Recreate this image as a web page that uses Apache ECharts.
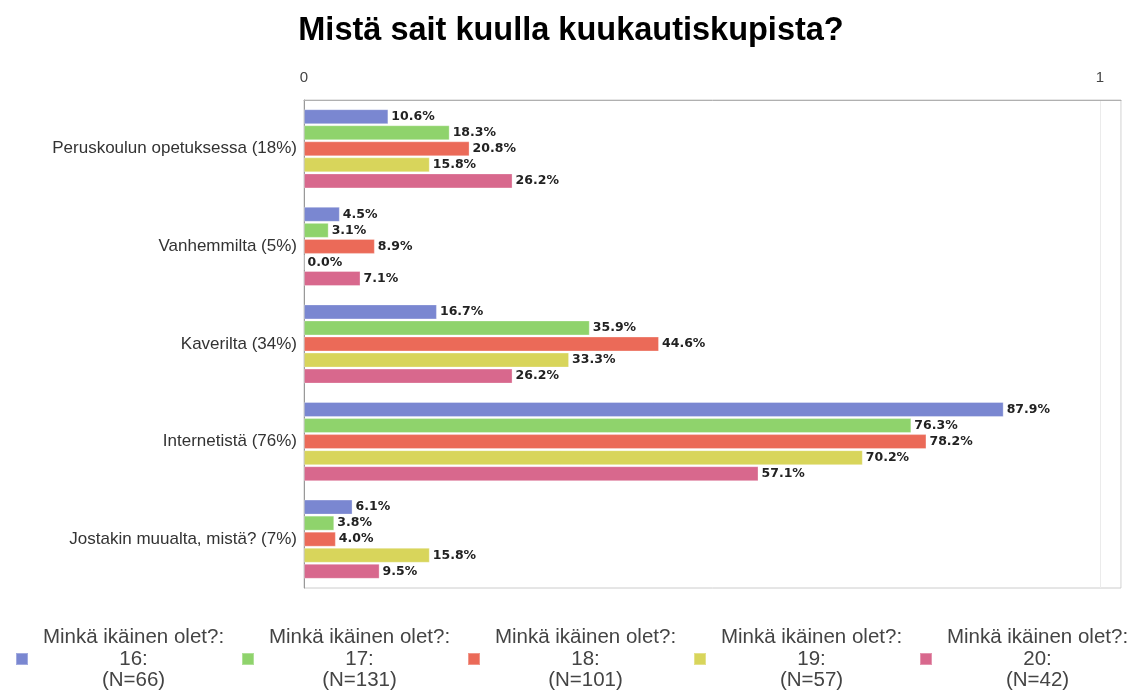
<!DOCTYPE html>
<html>
<head>
<meta charset="utf-8">
<script src="https://cdn.jsdelivr.net/npm/echarts@6/dist/echarts.min.js"></script>
<style>
html,body{margin:0;padding:0;background:#fff;}
#chart{width:1142px;height:698px;}
</style>
</head>
<body>
<div id="chart"></div>
<script>
const titleText = 'Mistä sait kuulla kuukautiskupista?';
const categories = [
  'Peruskoulun opetuksessa (18%)',
  'Vanhemmilta (5%)',
  'Kaverilta (34%)',
  'Internetistä (76%)',
  'Jostakin muualta, mistä? (7%)'
];
const ages = ['16', '17', '18', '19', '20'];
const counts = [66, 131, 101, 57, 42];
const age16 = [10.6, 4.5, 16.7, 87.9, 6.1];
const age17 = [18.3, 3.1, 35.9, 76.3, 3.8];
const age18 = [20.8, 8.9, 44.6, 78.2, 4.0];
const age19 = [15.8, 0.0, 33.3, 70.2, 15.8];
const age20 = [26.2, 7.1, 26.2, 57.1, 9.5];
const axisTicks = ['0', '1'];

const seriesValues = [age16, age17, age18, age19, age20];
const colors = ['#7a87d1', '#8fd36c', '#eb6a58', '#d8d55b', '#d8688d'];
const names = ages.map((a, i) => 'Minkä ikäinen olet?:\n' + a + ':\n(N=' + counts[i] + ')');

const chart = echarts.init(document.getElementById('chart'));
chart.setOption({
  animation: false,
  backgroundColor: '#fff',
  title: {
    text: titleText,
    left: 'center',
    top: 10,
    textStyle: {fontFamily: 'Liberation Sans', fontSize: 32.5, fontWeight: 'bold', color: '#000'}
  },
  legend: {
    left: 15,
    top: 627,
    width: 1127,
    padding: 0,
    itemWidth: 12,
    itemHeight: 12,
    itemGap: 7,
    icon: 'rect',
    data: names,
    formatter: function (n) {
      return n.split('\n').map(s => '{t|' + s + '}').join('\n');
    },
    textStyle: {
      rich: {
        t: {width: 201, align: 'center', fontSize: 20.5, lineHeight: 21.5, color: '#444', fontFamily: 'Liberation Sans'}
      }
    }
  },
  grid: {
    left: 304, right: 21, top: 100, bottom: 110,
    show: true, borderColor: '#cccccc', borderWidth: 1,
    containLabel: false
  },
  xAxis: {
    type: 'value',
    position: 'top',
    min: 0,
    max: 102.64,
    interval: 100,
    axisLine: {show: true, lineStyle: {color: '#b0b0b0'}},
    axisTick: {show: false},
    splitLine: {show: true, lineStyle: {color: '#ebebeb'}},
    axisLabel: {
      margin: 15,
      fontSize: 15,
      color: '#444',
      fontFamily: 'Liberation Sans',
      showMaxLabel: false,
      formatter: function (v) {
        if (v === 0) return axisTicks[0];
        if (v === 100) return axisTicks[1];
        return '';
      }
    }
  },
  yAxis: {
    type: 'category',
    inverse: true,
    data: categories,
    axisLine: {show: true, lineStyle: {color: '#999'}},
    axisTick: {show: false},
    axisLabel: {margin: 7, fontSize: 17, color: '#333', fontFamily: 'Liberation Sans'}
  },
  series: seriesValues.map((vals, i) => ({
    name: names[i],
    type: 'bar',
    data: vals,
    barWidth: 15,
    barGap: '7%',
    itemStyle: {color: colors[i], borderColor: 'rgba(255,255,255,0.3)', borderWidth: 1},
    label: {
      show: true,
      position: 'right',
      distance: 3,
      fontFamily: 'DejaVu Sans',
      fontSize: 12.5,
      fontWeight: 'bold',
      color: '#222',
      formatter: p => p.value.toFixed(1) + '%'
    }
  }))
});
</script>
</body>
</html>
